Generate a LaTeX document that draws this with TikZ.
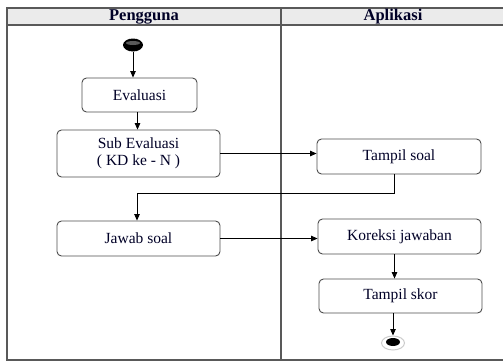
\documentclass[tikz,border=0pt]{standalone}
\usepackage{fontspec}
\setmainfont{Liberation Serif}
\usetikzlibrary{arrows.meta,shapes.geometric}

\begin{document}
\begin{tikzpicture}[x=1pt,y=-1pt,
  act/.style={draw=black!70, rounded corners=4.5pt, line width=0.9pt,
    align=center, inner sep=0pt, text=black!85!blue,
    font=\fontsize{15.5}{17}\selectfont},
  flow/.style={draw=black, line width=0.8pt},
  arr/.style={flow, -{Triangle[length=6.5pt,width=5.5pt]}},
  lane/.style={draw=black!65, line width=1.3pt},
  lanehead/.style={font=\bfseries\fontsize{16.5}{17}\selectfont, text=black!85!blue}
]
\useasboundingbox (0,0) rectangle (503,362);

% swimlane frame with shaded header row
\fill[black!8] (7,8) rectangle (503,25);
\draw[lane] (503,8) -- (7,8) -- (7,360) -- (503,360);
\draw[lane] (7,25) -- (503,25);
\draw[lane] (281,8) -- (281,360);
\node[lanehead] (hu) at (144,16.5) {Pengguna};
\node[lanehead] (ha) at (393,16.5) {Aplikasi};

% initial state
\node[ellipse, fill=black, minimum width=20pt, minimum height=13pt, inner sep=0pt] (start) at (133,45) {};
\fill[white, opacity=0.35] (133,43) ellipse (7pt and 2pt);

% activities
\node[act, minimum width=115pt, minimum height=34pt] (ev) at (139.5,95) {Evaluasi};
\node[act, minimum width=163pt, minimum height=47pt] (sub) at (138.5,153.5) {Sub Evaluasi\\( KD ke - N )};
\node[act, minimum width=164pt, minimum height=35pt] (ts) at (399,156.5) {Tampil soal};
\node[act, minimum width=163pt, minimum height=35pt] (jw) at (138.5,238.5) {Jawab soal};
\node[act, minimum width=163pt, minimum height=35pt] (kj) at (399.5,236.5) {Koreksi jawaban};
\node[act, minimum width=163pt, minimum height=34pt] (sk) at (400.5,296) {Tampil skor};

% final state
\node[ellipse, fill=white, draw=black!20, line width=1pt, minimum width=23pt, minimum height=14pt, inner sep=0pt] (fin) at (393,343) {};
\node[ellipse, fill=black, minimum width=14pt, minimum height=8pt, inner sep=0pt] (finc) at (393,342) {};

% control flow
\draw[arr] (start) -- (start |- ev.north);
\draw[arr] ([xshift=-2pt]ev.south) -- ([xshift=-2pt]ev.south |- sub.north);
\draw[arr] (sub.east) -- (sub.east -| ts.west);
\coordinate (bend) at ([xshift=-5pt]ts.south);
\draw[arr] (bend) -- ++(0,19) -| ([xshift=-1.5pt]jw.north);
\draw[arr] (jw.east) -- (jw.east -| kj.west);
\draw[arr] ([xshift=-5pt]kj.south) -- ([xshift=-5pt]kj.south |- sk.north);
\draw[arr] (sk.south -| fin) -- (fin.north);
\end{tikzpicture}
\end{document}
